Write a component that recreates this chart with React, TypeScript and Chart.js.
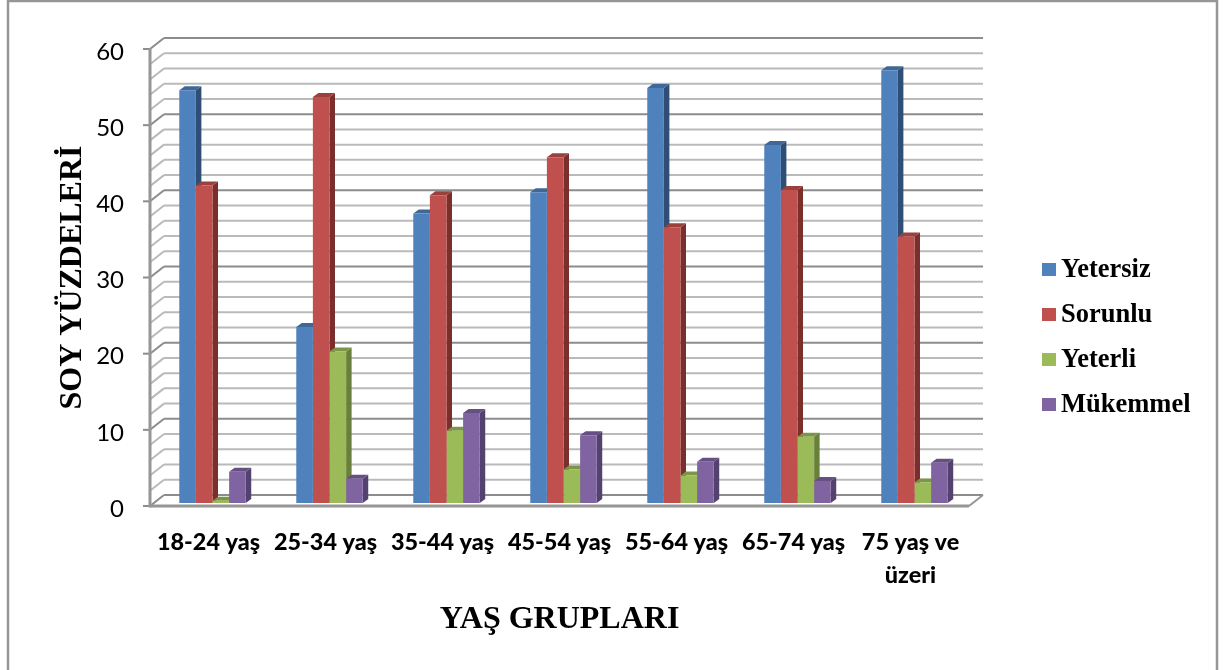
import React, { useEffect, useRef } from "react";
import { Chart, registerables } from "chart.js";

Chart.register(...registerables);

const categories = [
  "18-24 yaş",
  "25-34 yaş",
  "35-44 yaş",
  "45-54 yaş",
  "55-64 yaş",
  "65-74 yaş",
  ["75 yaş ve", "üzeri"],
];
const yetersiz = [54.2, 23.1, 38, 40.8, 54.5, 47, 56.8];
const sorunlu = [41.7, 53.3, 40.4, 45.4, 36.2, 41.1, 35];
const yeterli = [0.3, 19.9, 9.5, 4.4, 3.6, 8.7, 2.7];
const mukemmel = [4.1, 3.2, 11.8, 8.9, 5.4, 2.9, 5.3];

const frontColors = ["#4F81BD", "#C0504D", "#9BBB59", "#8064A2"];
const topColors = ["#3F6797", "#9A403D", "#7C9647", "#664F82"];
const sideColors = ["#2F4E75", "#7A2F2D", "#68803A", "#534170"];

const WALL_DX = 14;
const WALL_DY = 11;
const BAR_DX = 5.5;
const BAR_DY = 4;
const BAR_SHIFT_X = 4;
const BAR_SHIFT_Y = -3;

const poly = (ctx: CanvasRenderingContext2D, pts: number[][], fill: string) => {
  ctx.beginPath();
  pts.forEach((p, i) => (i ? ctx.lineTo(p[0], p[1]) : ctx.moveTo(p[0], p[1])));
  ctx.closePath();
  ctx.fillStyle = fill;
  ctx.fill();
};

const line = (
  ctx: CanvasRenderingContext2D,
  x1: number,
  y1: number,
  x2: number,
  y2: number,
  color: string,
  w: number
) => {
  ctx.beginPath();
  ctx.moveTo(x1, y1);
  ctx.lineTo(x2, y2);
  ctx.strokeStyle = color;
  ctx.lineWidth = w;
  ctx.stroke();
};

const framePlugin = {
  id: "frame3d",
  beforeDraw(chart: any) {
    const { ctx, width, height, chartArea, scales } = chart;
    ctx.save();
    ctx.fillStyle = "#fff";
    ctx.fillRect(0, 0, width, height);
    // outer frame (no bottom edge in view)
    ctx.beginPath();
    ctx.moveTo(8, height + 4);
    ctx.lineTo(8, 1);
    ctx.lineTo(1217, 1);
    ctx.lineTo(1217, height + 4);
    ctx.strokeStyle = "#969696";
    ctx.lineWidth = 2.5;
    ctx.stroke();

    const y = scales.y;
    const left = chartArea.left;
    const right = chartArea.right;
    y.ticks.forEach((t: any) => {
      const py = y.getPixelForValue(t.value);
      const major = t.value % 10 === 0;
      const color = major ? "#8C8C8C" : "#BABABA";
      line(ctx, left, py, left + WALL_DX, py - WALL_DY, color, 2);
      line(ctx, left + WALL_DX, py - WALL_DY, right + WALL_DX, py - WALL_DY, color, 2);
      if (major) line(ctx, left - 7, py, left, py, "#8C8C8C", 2);
    });
    const y0 = y.getPixelForValue(0);
    const yTop = y.getPixelForValue(60);
    line(ctx, left, yTop - 1, left, y0 + 1.5, "#969696", 3);
    line(ctx, left, y0, right, y0, "#969696", 3);
    line(ctx, right, y0, right + WALL_DX, y0 - WALL_DY, "#969696", 2);
    ctx.restore();
  },
  beforeDatasetsDraw(chart: any) {
    const { ctx } = chart;
    ctx.save();
    ctx.translate(BAR_SHIFT_X, BAR_SHIFT_Y);
    chart.data.datasets.forEach((_: any, di: number) => {
      chart.getDatasetMeta(di).data.forEach((bar: any) => {
        const { x, y, base, width } = bar.getProps(["x", "y", "base", "width"], true);
        const l = x - width / 2;
        const r = x + width / 2;
        poly(
          ctx,
          [
            [r, y],
            [r + BAR_DX, y - BAR_DY],
            [r + BAR_DX, base - BAR_DY],
            [r, base],
          ],
          sideColors[di]
        );
        poly(
          ctx,
          [
            [l, y],
            [l + BAR_DX, y - BAR_DY],
            [r + BAR_DX, y - BAR_DY],
            [r, y],
          ],
          topColors[di]
        );
      });
    });
  },
  afterDatasetsDraw(chart: any) {
    const { ctx } = chart;
    ctx.restore();
    // legend
    ctx.save();
    ctx.textBaseline = "middle";
    ctx.textAlign = "left";
    ctx.font = "bold 26.5px 'Liberation Serif'";
    chart.data.datasets.forEach((ds: any, i: number) => {
      const cy = 269 + i * 45;
      ctx.fillStyle = frontColors[i];
      ctx.fillRect(1042, cy - 6, 14, 13);
      ctx.fillStyle = "#000";
      ctx.fillText(ds.label, 1061, cy + 1);
    });
    ctx.restore();
  },
};

export default function App() {
  const ref = useRef<HTMLCanvasElement>(null);
  useEffect(() => {
    document.body.style.margin = "0";
    const mk = (label: string, data: number[], i: number) => ({
      label,
      data,
      backgroundColor: frontColors[i],
      borderWidth: 0,
      categoryPercentage: 0.568,
      barPercentage: 1,
      clip: false as const,
    });
    const chart = new Chart(ref.current as HTMLCanvasElement, {
      type: "bar",
      data: {
        labels: categories as any,
        datasets: [
          mk("Yetersiz", yetersiz, 0),
          mk("Sorunlu", sorunlu, 1),
          mk("Yeterli", yeterli, 2),
          mk("Mükemmel", mukemmel, 3),
        ],
      },
      plugins: [framePlugin],
      options: {
        animation: false,
        responsive: false,
        layout: { padding: { left: 54, right: 260, top: 49, bottom: 0 } },
        plugins: { legend: { display: false }, tooltip: { enabled: false } },
        scales: {
          x: {
            afterFit: (s: any) => {
              s.height = 164;
            },
            grid: { display: false, drawTicks: false },
            border: { display: false },
            ticks: {
              autoSkip: false,
              maxRotation: 0,
              minRotation: 0,
              padding: 20,
              color: "#000",
              font: { family: "Lato", weight: "900", size: 23.4, lineHeight: "33px" },
            },
            title: {
              display: true,
              text: "YAŞ GRUPLARI",
              color: "#000",
              padding: { top: 0, bottom: 31 },
              font: { family: "'Liberation Serif'", weight: "bold", size: 32 },
            },
          },
          y: {
            min: 0,
            max: 60,
            afterFit: (s: any) => {
              s.width = 96;
            },
            grid: { display: false, drawTicks: false },
            border: { display: false },
            ticks: {
              stepSize: 2,
              autoSkip: false,
              padding: 26,
              labelOffset: 3,
              color: "#000",
              font: { family: "Lato", size: 24 },
              callback: (v: any) => (Number(v) % 10 === 0 ? String(v) : ""),
            },
            title: {
              display: true,
              text: "SOY YÜZDELERİ",
              color: "#000",
              padding: 0,
              font: { family: "'Liberation Serif'", weight: "bold", size: 32 },
            },
          },
        },
      },
    });
    return () => chart.destroy();
  }, []);
  return <canvas ref={ref} width={1229} height={670} style={{ display: "block", filter: "blur(0.4px)" }} />;
}
